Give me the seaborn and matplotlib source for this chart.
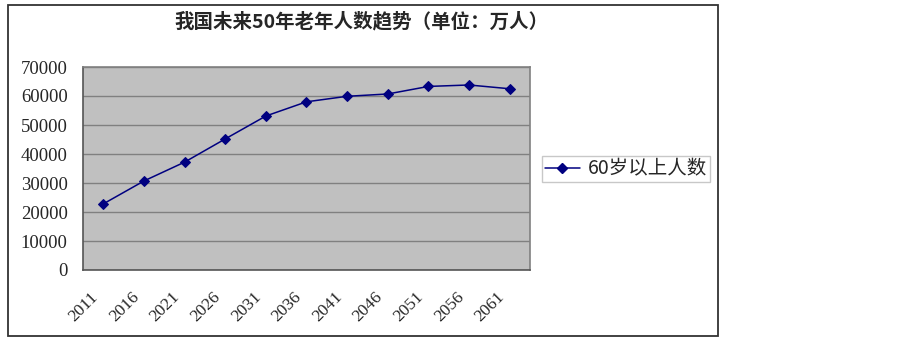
import matplotlib
matplotlib.use("Agg")
import matplotlib.pyplot as plt
import seaborn as sns
import pandas as pd
from matplotlib.patches import Rectangle
from matplotlib.ticker import FixedLocator
from matplotlib.transforms import ScaledTranslation
from matplotlib.lines import Line2D

years = ["2011", "2016", "2021", "2026", "2031", "2036", "2041", "2046", "2051", "2056", "2061"]
values = [22800, 30700, 37200, 45200, 53100, 58000, 59900, 60700, 63300, 63800, 62500]
series_name = "60岁以上人数"
title = "我国未来50年老年人数趋势（单位：万人）"
yticks = [0, 10000, 20000, 30000, 40000, 50000, 60000, 70000]

sns.set_style("white")
plt.rcParams['font.family'] = ['Noto Sans CJK SC', 'DejaVu Sans']

df = pd.DataFrame({"pos": range(len(years)), "value": values, "series": series_name})

fig = plt.figure(figsize=(9.03, 3.43), dpi=100)
W, H = 903, 343
# outer frame
fig.patches.append(Rectangle((8 / W, 1 - 336 / H), (718 - 8) / W, (336 - 5) / H,
                             transform=fig.transFigure, fill=False,
                             edgecolor="#333333", linewidth=1.3))

ax = fig.add_axes([83 / W, 1 - 270 / H, (530 - 83) / W, (270 - 67) / H])
ax.set_facecolor("#C0C0C0")
sns.lineplot(data=df, x="pos", y="value", hue="series", palette=["#000080"],
             marker="D", markersize=5, markeredgecolor="#000080", linewidth=1.1,
             ax=ax, legend=False)

ax.set_xlim(-0.5, len(years) - 0.5)
ax.set_ylim(0, 70000)
ax.set_yticks(yticks)
ax.set_yticklabels([str(v) for v in yticks], family="Liberation Serif", fontsize=13.5)
ax.yaxis.grid(True, color="#808080", linewidth=1)
ax.set_axisbelow(True)
ax.tick_params(axis="y", length=0, pad=11)

ax.set_xticks(range(len(years)))
ax.set_xticklabels(years, rotation=45, ha="right", rotation_mode="anchor",
                   family="Liberation Serif", fontsize=12.5)
ax.tick_params(axis="x", which="major", length=0, pad=13)
shift = ScaledTranslation(-13 / 100, -1 / 100, fig.dpi_scale_trans)
for lab in ax.get_xticklabels():
    lab.set_transform(lab.get_transform() + shift)
ax.xaxis.set_minor_locator(FixedLocator([i - 0.5 for i in range(len(years) + 1)]))
ax.tick_params(axis="x", which="minor", direction="in", length=5, color="#808080", width=1)
ax.set_xlabel("")
ax.set_ylabel("")
for s in ax.spines.values():
    s.set_visible(True)
    s.set_color("#808080")
    s.set_linewidth(1.2)
ax.spines["bottom"].set_color("#555555")
ax.spines["left"].set_color("#555555")

fig.text(361 / W, 1 - 22 / H, title, ha="center", va="center",
         fontsize=14, fontweight="bold")

handle = Line2D([], [], color="#000080", marker="D", markersize=5, linewidth=1.1)
leg = fig.legend([handle], [series_name], loc="center left",
                 bbox_to_anchor=(542 / W, 1 - 169 / H), frameon=True, fancybox=False,
                 fontsize=14, handlelength=1.8, handletextpad=0.4,
                 borderpad=0.15, borderaxespad=0)
leg.get_frame().set_edgecolor("#BBBBBB")
leg.get_frame().set_linewidth(1)

fig.savefig("out.png", dpi=100, facecolor="white")
